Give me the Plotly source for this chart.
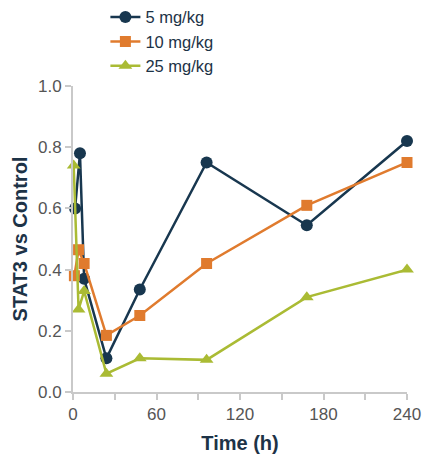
import plotly.graph_objects as go

# Data
series_names = ["5 mg/kg", "10 mg/kg", "25 mg/kg"]
time_5 = [1.5, 5, 8, 24, 48, 96, 168, 240]
stat3_5 = [0.60, 0.78, 0.37, 0.11, 0.335, 0.75, 0.545, 0.82]
time_10 = [1, 4, 8, 24, 48, 96, 168, 240]
stat3_10 = [0.38, 0.465, 0.42, 0.185, 0.25, 0.42, 0.61, 0.75]
time_25 = [0.5, 4, 8, 24, 48, 96, 168, 240]
stat3_25 = [0.74, 0.27, 0.33, 0.06, 0.11, 0.105, 0.31, 0.40]

x_ticks = [0, 60, 120, 180, 240]
y_ticks = [0.0, 0.2, 0.4, 0.6, 0.8, 1.0]
y_ticktext = ["0.0", "0.2", "0.4", "0.6", "0.8", "1.0"]

colors = ["#18374f", "#e07b2e", "#aabb34"]
symbols = ["circle", "square", "triangle-up"]
sizes = [12, 11, 12]

fig = go.Figure()
for name, xs, ys, c, s, sz in zip(series_names,
                                  [time_5, time_10, time_25],
                                  [stat3_5, stat3_10, stat3_25],
                                  colors, symbols, sizes):
    fig.add_trace(go.Scatter(
        x=xs, y=ys, name=name, mode="lines+markers",
        line=dict(color=c, width=2.5),
        marker=dict(color=c, symbol=s, size=sz),
        cliponaxis=False,
    ))

axis_common = dict(
    showline=True, linecolor="#c9c9c9", linewidth=2,
    ticks="outside", tickcolor="#c9c9c9", ticklen=6, tickwidth=1.5,
    showgrid=False, zeroline=False, automargin=False,
    ticklabeloverflow="allow",
    tickfont=dict(family="Liberation Sans, Arial", size=17, color="#555555"),
)

fig.update_layout(
    width=422, height=454,
    margin=dict(l=73, r=15, t=86, b=62, autoexpand=False),
    paper_bgcolor="white", plot_bgcolor="white",
    font=dict(family="Liberation Sans, Arial"),
    xaxis=dict(
        range=[0, 240], tickvals=x_ticks,
        minor=dict(dtick=30, tick0=0, ticks="outside", ticklen=6, tickcolor="#c9c9c9", tickwidth=1.5),
        title=dict(text="<b>Time (h)</b>", font=dict(size=20, color="#1d3347"), standoff=13),
        **axis_common,
    ),
    yaxis=dict(
        range=[0, 1.0], tickvals=y_ticks, ticktext=y_ticktext,
        title=dict(text="<b>STAT3 vs Control</b>", font=dict(size=20, color="#1d3347"), standoff=5),
        **axis_common,
    ),
    legend=dict(
        x=0.097, y=1.282, xanchor="left", yanchor="top",
        font=dict(size=16.5, color="#1d3347"),
        bgcolor="rgba(0,0,0,0)", itemwidth=30,
        tracegroupgap=0,
    ),
    showlegend=True,
)

page_style = ("document.body.style.margin='0';"
              "document.body.style.overflow='hidden';"
              "document.documentElement.style.overflow='hidden';")

fig.write_html("out.html", post_script=page_style,
               config={"displayModeBar": False})
